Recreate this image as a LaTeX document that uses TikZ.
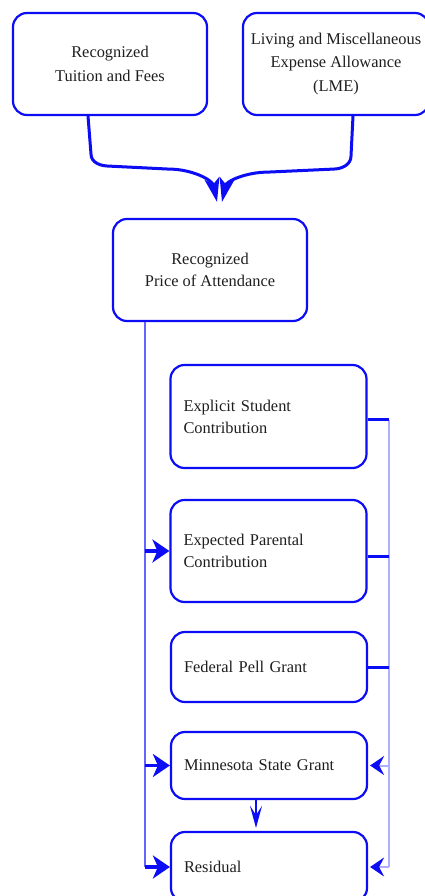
\documentclass[tikz,border=0pt]{standalone}
\usepackage{fontspec}
\setmainfont{Liberation Serif}
\usetikzlibrary{arrows.meta}
\definecolor{bblue}{RGB}{12,12,245}
\definecolor{midblue}{RGB}{100,100,255}
\definecolor{lightblue}{RGB}{175,175,255}
\definecolor{txt}{RGB}{30,30,30}
\begin{document}
\begin{tikzpicture}[x=1pt,y=-1pt,
  box/.style={draw=bblue, line width=2.2pt, rounded corners=14pt, text=txt,
    font=\fontsize{16.4}{22}\selectfont, inner sep=0pt, align=center},
  tbox/.style={box, font=\fontsize{16.4}{23.5}\selectfont},
  lbox/.style={box, align=left, inner xsep=13pt, text width=170pt},
  tline/.style={draw=bblue, line width=3pt, -{Stealth[length=24pt,width=15pt,inset=6pt]}},
  vline/.style={draw=midblue, line width=2pt},
  rline/.style={draw=lightblue, line width=2pt},
  stub/.style={draw=bblue, line width=3pt},
  harr/.style={draw=bblue, line width=3.5pt, -{Stealth[length=17pt,width=23pt,inset=5pt]}},
  larr/.style={draw=lightblue, line width=2pt, shorten >=2pt, -{Stealth[length=14pt,width=19pt,inset=5pt,color=bblue]}},
  darr/.style={draw=bblue, line width=2pt, shorten >=3pt, -{Stealth[length=22pt,width=12pt,inset=9pt]}}
]
\useasboundingbox (0,0) rectangle (425,896);
\clip (0,0) rectangle (425,896);

\node[tbox, minimum width=194pt, minimum height=102pt] (tf) at (110,64) {Recognized\\Tuition and Fees};
\node[tbox, minimum width=186pt, minimum height=102pt] (lme) at (336,64) {Living and Miscellaneous\\Expense Allowance\\(LME)};
\node[box, minimum width=194pt, minimum height=102pt] (poa) at (210,270) {Recognized\\Price of Attendance};

\node[lbox, minimum width=195pt, minimum height=103pt] (esc) at (268.5,416.5) {Explicit Student\\Contribution};
\node[lbox, minimum width=195pt, minimum height=102pt] (epc) at (268.5,551) {Expected Parental\\Contribution};
\node[lbox, minimum width=196pt, minimum height=70pt] (fpg) at (269,667) {Federal Pell Grant};
\node[lbox, minimum width=196pt, minimum height=67pt] (msg) at (269,765.5) {Minnesota State Grant};
\node[lbox, minimum width=196pt, minimum height=70pt] (res) at (269,867) {Residual};

% top merging connectors
\draw[tline] ([xshift=-22pt]tf.south) -- ++(3,38) to[out=-90,in=180] ++(18,12)
  -- ++(60,3) to[out=0,in=102] ([xshift=7pt,yshift=16pt]poa.north);
\draw[tline] ([xshift=17pt]lme.south) -- ++(-2,40) to[out=-90,in=0] ++(-18,13)
  -- ++(-65,3) to[out=180,in=78] ([xshift=12pt,yshift=16pt]poa.north);

% left bus
\coordinate (lt) at ([xshift=-65pt]poa.south);
\draw[vline] (lt) -- (lt |- res.west);
\draw[harr] (lt |- epc.west) -- (epc.west);
\draw[harr] (lt |- msg.west) -- (msg.west);
\draw[harr] (lt |- res.west) -- (res.west);

% right bus
\coordinate (rt) at ([xshift=21pt,yshift=-3pt]esc.east);
\draw[rline] (rt) -- (rt |- res.east);
\draw[stub] ([yshift=-3pt]esc.east) -- (rt);
\draw[stub] ([yshift=-5pt]epc.east) -- ([yshift=-5pt]epc.east -| rt);
\draw[stub] (fpg.east) -- (fpg.east -| rt);
\draw[larr] (msg.east -| rt) -- (msg.east);
\draw[larr] (res.east -| rt) -- (res.east);

% down arrow
\draw[darr] ([xshift=-13pt]msg.south) -- ([xshift=-13pt]res.north);
\end{tikzpicture}
\end{document}
